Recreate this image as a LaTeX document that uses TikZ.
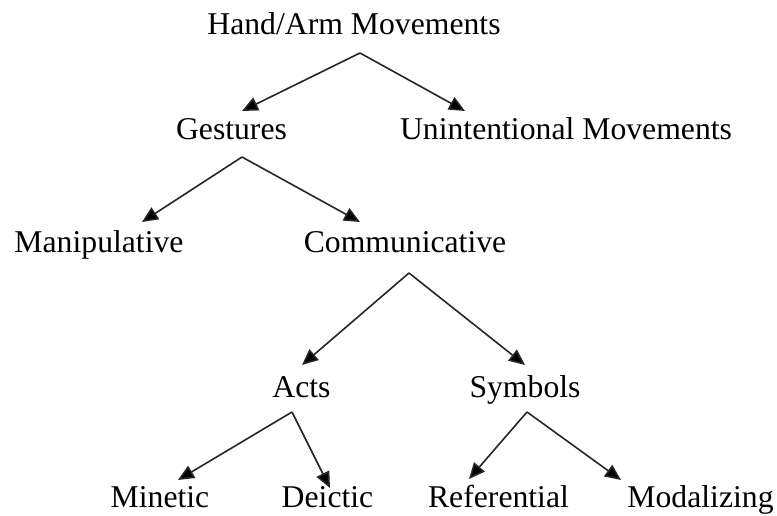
\documentclass[tikz,border=0pt]{standalone}
\usepackage{fontspec}
\setmainfont{Liberation Serif}
\usetikzlibrary{arrows.meta}
\tikzset{
  lbl/.style={anchor=base, inner sep=0pt, font=\fontsize{31.7bp}{38bp}\selectfont},
  conn/.style={draw=black!85, line width=1.6bp, -{Triangle[length=16bp,width=14bp,fill=black]}}
}
\begin{document}
\begin{tikzpicture}[x=1bp,y=-1bp]
\useasboundingbox (0,0) rectangle (777,516);
% labels
\node[lbl] (ham) at (354,35) {Hand/Arm Movements};
\node[lbl] (ges) at (231.5,140) {Gestures};
\node[lbl] (unm) at (566,140) {Unintentional Movements};
\node[lbl] (man) at (99,253) {Manipulative};
\node[lbl] (com) at (405,253) {Communicative};
\node[lbl] (act) at (301.5,397) {Acts};
\node[lbl] (sym) at (525,397) {Symbols};
\node[lbl] (min) at (160,507) {Minetic};
\node[lbl] (dei) at (327.5,507) {Deictic};
\node[lbl] (ref) at (498.5,507) {Referential};
\node[lbl] (mod) at (700.5,507) {Modalizing};
% apex and tip coordinates
\coordinate (hamA) at (360,53);
\coordinate (gesT) at (242,111);
\coordinate (unmT) at (465,111);
\coordinate (gesA) at (242,157);
\coordinate (manT) at (142,222);
\coordinate (comT) at (360,222);
\coordinate (comA) at (409,273);
\coordinate (actT) at (302,365);
\coordinate (symT) at (525,365);
\coordinate (actA) at (292,412);
\coordinate (minT) at (178,480);
\coordinate (deiT) at (330,488);
\coordinate (symA) at (527,412);
\coordinate (refT) at (469,479);
\coordinate (modT) at (621,480);
% connectors
\draw[conn] (hamA) -- (gesT);
\draw[conn] (hamA) -- (unmT);
\draw[conn] (gesA) -- (manT);
\draw[conn] (gesA) -- (comT);
\draw[conn] (comA) -- (actT);
\draw[conn] (comA) -- (symT);
\draw[conn] (actA) -- (minT);
\draw[conn] (actA) -- (deiT);
\draw[conn] (symA) -- (refT);
\draw[conn] (symA) -- (modT);
\end{tikzpicture}
\end{document}
